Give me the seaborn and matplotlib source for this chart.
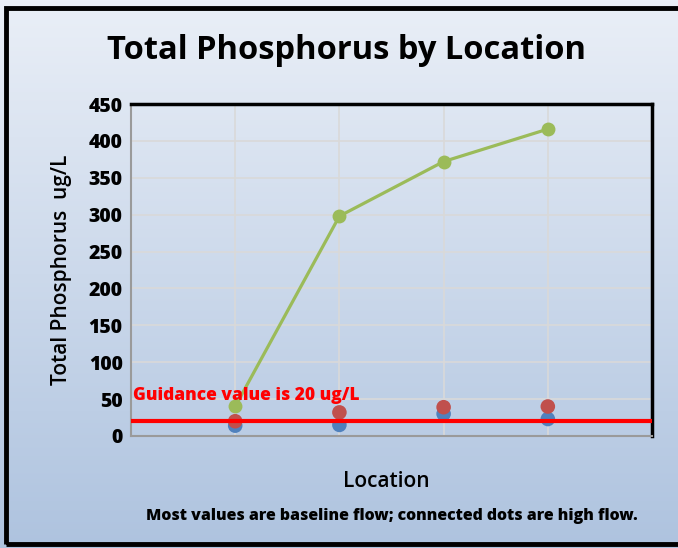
import numpy as np
import pandas as pd
import matplotlib
matplotlib.use("Agg")
import matplotlib.pyplot as plt
import seaborn as sns
from matplotlib.patches import Rectangle

locations = [1, 2, 3, 4]
high_flow = [40, 298, 372, 416]
baseline_red = [20, 32, 39, 40]
baseline_blue = [14, 15, 30, 23]
guidance = 20
y_ticks = [0, 50, 100, 150, 200, 250, 300, 350, 400, 450]

sns.set_style("white")
plt.rcParams['font.family'] = ['Open Sans', 'DejaVu Sans']
plt.rcParams['text.color'] = 'black'
plt.rcParams['axes.labelcolor'] = 'black'
plt.rcParams['ytick.color'] = 'black'

fig = plt.figure(figsize=(6.78, 5.48), dpi=100)

# gradient background
bg = fig.add_axes([0, 0, 1, 1], zorder=-10)
grad = np.linspace(0, 1, 256).reshape(-1, 1)
top = np.array([0xEA, 0xEF, 0xF7]) / 255
bot = np.array([0xAE, 0xC3, 0xDF]) / 255
img = top[None, None, :] * (1 - grad[:, :, None]) + bot[None, None, :] * grad[:, :, None]
bg.imshow(img, aspect='auto', extent=[0, 1, 0, 1], origin='upper')
bg.set_xlim(0, 1); bg.set_ylim(0, 1)
bg.axis('off')
bg.add_patch(Rectangle((0.009, 0.008), 0.995, 0.978, fill=False, lw=3.5, ec='black',
                       transform=bg.transAxes))

ax = fig.add_axes([0.1932, 0.2044, 0.7685, 0.6058])
ax.patch.set_alpha(0)

df_high = pd.DataFrame({"loc": locations, "val": high_flow})
df_red = pd.DataFrame({"loc": locations, "val": baseline_red})
df_blue = pd.DataFrame({"loc": locations, "val": baseline_blue})

sns.scatterplot(data=df_blue, x="loc", y="val", ax=ax, color="#4F81BD", s=110, edgecolor='none', zorder=3)
sns.scatterplot(data=df_red, x="loc", y="val", ax=ax, color="#C0504D", s=110, edgecolor='none', zorder=4)
sns.lineplot(data=df_high, x="loc", y="val", ax=ax, color="#9BBB59", lw=2.3, marker='o',
             markersize=10, markeredgecolor='none', zorder=5)
ax.axhline(guidance, color="#FF0000", lw=3, zorder=6)

ax.text(0.02, 55, "Guidance value is 20 ug/L", color="#FF0000", fontsize=12.5,
        fontweight='heavy', ha='left', va='center', zorder=7)

ax.set_xlim(0, 5)
ax.set_ylim(0, 450)
ax.set_yticks(y_ticks)
ax.set_xticks([1, 2, 3, 4])
ax.set_xticklabels([])
ax.tick_params(axis='x', length=0)
ax.tick_params(axis='y', length=0, pad=6, labelsize=14)
for lab in ax.get_yticklabels():
    lab.set_fontweight('heavy')
ax.grid(True, color="#D9D9D9", lw=1.2)
ax.set_axisbelow(True)

for side in ['top', 'right']:
    ax.spines[side].set_color('black')
    ax.spines[side].set_linewidth(2.5)
for side in ['left', 'bottom']:
    ax.spines[side].set_color('#9a9a9a')
    ax.spines[side].set_linewidth(1.5)

ax.set_xlabel("")
ax.set_ylabel("Total Phosphorus  ug/L", fontsize=15, fontweight='semibold', labelpad=12)

fig.text(0.511, 0.908, "Total Phosphorus by Location", fontsize=23.5, fontweight='bold',
         ha='center', va='center')
fig.text(0.57, 0.122, "Location", fontsize=15, fontweight='semibold', ha='center', va='center')
fig.text(0.578, 0.058, "Most values are baseline flow; connected dots are high flow.",
         fontsize=11.4, fontweight='heavy', ha='center', va='center')

fig.savefig("out.png", dpi=100)
